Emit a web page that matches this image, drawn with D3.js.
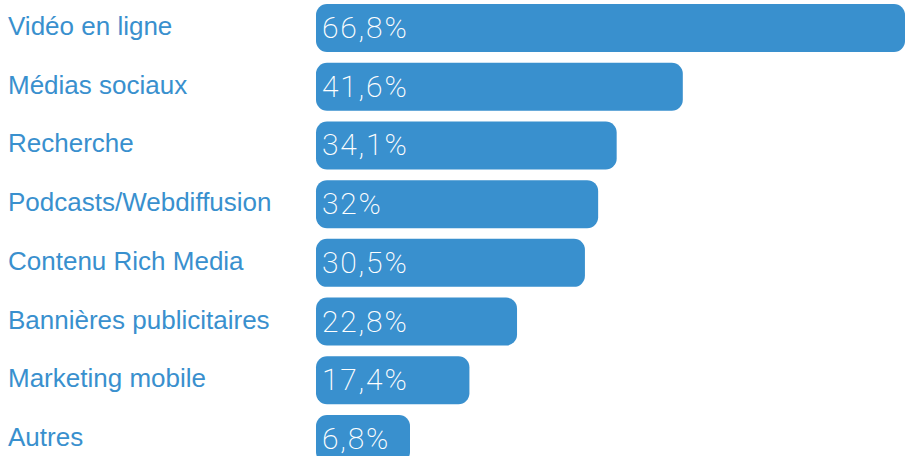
<!DOCTYPE html>
<html>
<head>
<meta charset="utf-8">
<script src="https://cdn.jsdelivr.net/npm/d3@7"></script>
<style>
  body { margin: 0; background: #fff; }
  svg { display: block; }
</style>
</head>
<body>
<svg id="chart"></svg>
<script>
// categories and values
const categories = ["Vidéo en ligne", "Médias sociaux", "Recherche", "Podcasts/Webdiffusion",
                    "Contenu Rich Media", "Bannières publicitaires", "Marketing mobile", "Autres"];
const values = [66.8, 41.6, 34.1, 32, 30.5, 22.8, 17.4, 6.8];
const valueLabels = ["66,8%", "41,6%", "34,1%", "32%", "30,5%", "22,8%", "17,4%", "6,8%"];

const width = 906;
const height = 456;
const barLeft = 316;
const blue = "#3990ce";

const data = categories.map((c, i) => ({ cat: c, value: values[i], label: valueLabels[i] }));

let svg = d3.select("#chart")
  .attr("width", width)
  .attr("height", height);

let y = d3.scaleBand()
  .domain(categories)
  .range([4, 463])
  .paddingInner(0.182);

let x = d3.scaleLinear()
  .domain([0, d3.max(values)])
  .range([0, width - 1 - barLeft]);

// bars, with a minimum width so the value text fits
let rows = svg.selectAll(".row")
  .data(data)
  .enter()
  .append("g")
  .attr("class", "row");

rows.append("rect")
  .attr("x", barLeft)
  .attr("y", d => y(d.cat))
  .attr("width", d => Math.max(x(d.value), 94))
  .attr("height", y.bandwidth())
  .attr("rx", 11)
  .attr("fill", blue);

// value text, thin and a bit spaced out
rows.append("text")
  .attr("x", barLeft + 6)
  .attr("y", d => y(d.cat) + y.bandwidth() / 2 + 10)
  .attr("fill", "#fff")
  .attr("font-family", "Roboto, 'Open Sans', sans-serif")
  .attr("font-weight", 200)
  .attr("font-size", 30)
  .attr("letter-spacing", 1.8)
  .text(d => d.label);

// category labels on the left
rows.append("text")
  .attr("x", 8)
  .attr("y", d => y(d.cat) + y.bandwidth() / 2 + 7)
  .attr("fill", blue)
  .attr("font-family", "'Liberation Sans', Arial, sans-serif")
  .attr("font-size", 26)
  .text(d => d.cat);
</script>
</body>
</html>
